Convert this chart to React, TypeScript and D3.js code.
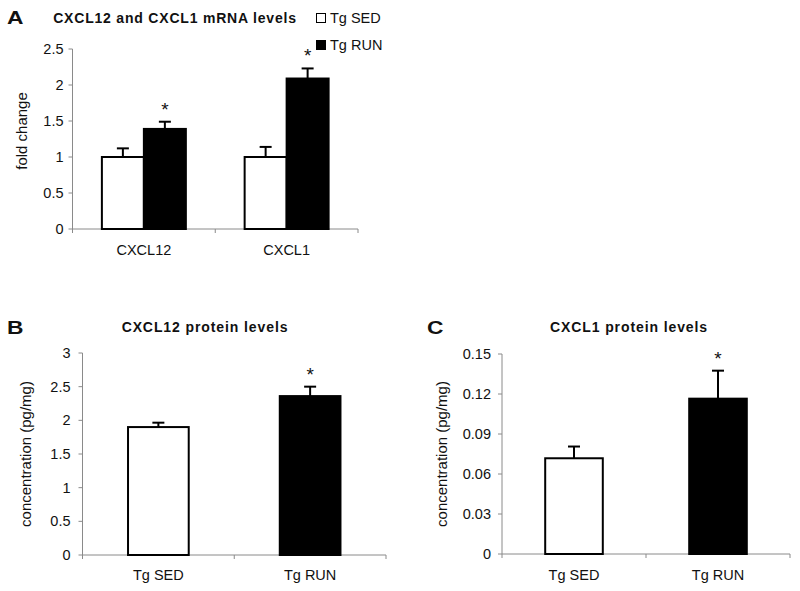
import React from "react";
import * as d3 from "d3";

// Panel A: mRNA fold change
const mrnaCategories = ["CXCL12", "CXCL1"];
const seriesNames = ["Tg SED", "Tg RUN"];
const mrnaSed = [1.0, 1.0];
const mrnaSedErr = [0.12, 0.14];
const mrnaRun = [1.39, 2.09];
const mrnaRunErr = [0.1, 0.14];
const mrnaTicks = [0, 0.5, 1, 1.5, 2, 2.5];

// Panel B: CXCL12 protein
const groupCategories = ["Tg SED", "Tg RUN"];
const cxcl12Protein = [1.9, 2.36];
const cxcl12ProteinErr = [0.065, 0.14];
const cxcl12Ticks = [0, 0.5, 1, 1.5, 2, 2.5, 3];

// Panel C: CXCL1 protein
const cxcl1Protein = [0.0718, 0.1165];
const cxcl1ProteinErr = [0.0088, 0.021];
const cxcl1Ticks = [0, 0.03, 0.06, 0.09, 0.12, 0.15];

const FONT = "'Liberation Sans', Arial, Helvetica, sans-serif";
const AXIS = "#8a8a8a";
const fmt = d3.format("~g");

type AxisProps = {
  x0: number;
  x1: number;
  y: d3.ScaleLinear<number, number>;
  ticks: number[];
  labelGap: number;
  xTicks: number[];
};

function Axes({ x0, x1, y, ticks, labelGap, xTicks }: AxisProps) {
  const [y0, yTop] = [y(ticks[0]), y(ticks[ticks.length - 1])];
  return (
    <g>
      <line x1={x0} x2={x0} y1={yTop} y2={y0} stroke={AXIS} strokeWidth={1} />
      <line x1={x0} x2={x1} y1={y0} y2={y0} stroke={AXIS} strokeWidth={1} />
      {ticks.map((t) => (
        <g key={t}>
          <line x1={x0 - 4} x2={x0} y1={y(t)} y2={y(t)} stroke={AXIS} strokeWidth={1} />
          <text
            x={x0 - labelGap}
            y={y(t)}
            dy="0.35em"
            textAnchor="end"
            fontSize={14.5}
            fontFamily={FONT}
            fill="#111"
          >
            {fmt(t)}
          </text>
        </g>
      ))}
      {xTicks.map((xt, i) => (
        <line key={i} x1={xt} x2={xt} y1={y0} y2={y0 + 4} stroke={AXIS} strokeWidth={1} />
      ))}
    </g>
  );
}

function ErrorBar({ cx, yTop, yBar }: { cx: number; yTop: number; yBar: number }) {
  return (
    <g stroke="#000" strokeWidth={2}>
      <line x1={cx} x2={cx} y1={yBar} y2={yTop} />
      <line x1={cx - 6} x2={cx + 6} y1={yTop} y2={yTop} />
    </g>
  );
}

function Star({ cx, yTop }: { cx: number; yTop: number }) {
  return (
    <text x={cx} y={yTop - 6} textAnchor="middle" fontSize={19} fontFamily={FONT} fill="#111">
      *
    </text>
  );
}

function PanelLetter({ x, y, letter }: { x: number; y: number; letter: string }) {
  return (
    <text
      transform={`translate(${x},${y}) scale(1.2,1)`}
      fontSize={19}
      fontWeight="bold"
      fontFamily={FONT}
      fill="#111"
    >
      {letter}
    </text>
  );
}

function PanelA() {
  const xL = 72.5;
  const xR = 358;
  const y = d3.scaleLinear().domain([0, 2.5]).range([229, 49]);
  const x0 = d3.scaleBand<string>().domain(mrnaCategories).range([xL, xR]).padding(0);
  const x1 = d3
    .scaleBand<string>()
    .domain(seriesNames)
    .range([0, x0.bandwidth()])
    .paddingInner(0)
    .paddingOuter(0.7);
  const series = [
    { name: seriesNames[0], vals: mrnaSed, errs: mrnaSedErr, fill: "#fff" },
    { name: seriesNames[1], vals: mrnaRun, errs: mrnaRunErr, fill: "#000" },
  ];
  return (
    <g>
      <PanelLetter x={7} y={24} letter="A" />
      <text
        x={175}
        y={23}
        textAnchor="middle"
        fontSize={14}
        fontWeight="bold"
        letterSpacing={0.8}
        fontFamily={FONT}
        fill="#111"
      >
        CXCL12 and CXCL1 mRNA levels
      </text>
      {series.map((s, i) => (
        <g key={s.name}>
          <rect
            x={316.5}
            y={13.5 + i * 27}
            width={9}
            height={9}
            fill={s.fill}
            stroke="#000"
            strokeWidth={1}
          />
          <text x={330} y={23 + i * 27} fontSize={14.5} fontFamily={FONT} fill="#111">
            {s.name}
          </text>
        </g>
      ))}
      <Axes
        x0={xL}
        x1={xR}
        y={y}
        ticks={mrnaTicks}
        labelGap={9}
        xTicks={[xL, x0(mrnaCategories[1]) as number, xR]}
      />
      {mrnaCategories.map((c, ci) => (
        <g key={c}>
          {series.map((s) => {
            const bx = (x0(c) as number) + (x1(s.name) as number);
            const bw = x1.bandwidth();
            return (
              <rect
                key={s.name}
                x={bx}
                y={y(s.vals[ci])}
                width={bw}
                height={y(0) - y(s.vals[ci])}
                fill={s.fill}
                stroke="#000"
                strokeWidth={2}
              />
            );
          })}
          {series.map((s) => {
            const cx = (x0(c) as number) + (x1(s.name) as number) + x1.bandwidth() / 2;
            return (
              <ErrorBar
                key={s.name}
                cx={cx}
                yBar={y(s.vals[ci])}
                yTop={y(s.vals[ci] + s.errs[ci])}
              />
            );
          })}
          <Star
            cx={(x0(c) as number) + (x1(seriesNames[1]) as number) + x1.bandwidth() / 2}
            yTop={y(mrnaRun[ci] + mrnaRunErr[ci])}
          />
          <text
            x={(x0(c) as number) + x0.bandwidth() / 2}
            y={255}
            textAnchor="middle"
            fontSize={14.5}
            fontFamily={FONT}
            fill="#111"
          >
            {c}
          </text>
        </g>
      ))}
      <text
        transform={`translate(27,131) rotate(-90)`}
        textAnchor="middle"
        fontSize={15}
        fontFamily={FONT}
        fill="#111"
      >
        fold change
      </text>
    </g>
  );
}

type ProteinProps = {
  letter: string;
  letterX: number;
  title: string;
  titleX: number;
  xL: number;
  xR: number;
  yTopPx: number;
  yBotPx: number;
  ticks: number[];
  vals: number[];
  errs: number[];
  labelGap: number;
  yLabelX: number;
};

function ProteinPanel(p: ProteinProps) {
  const y = d3
    .scaleLinear()
    .domain([0, p.ticks[p.ticks.length - 1]])
    .range([p.yBotPx, p.yTopPx]);
  const x = d3
    .scaleBand<string>()
    .domain(groupCategories)
    .range([p.xL, p.xR])
    .paddingInner(0.6)
    .paddingOuter(0.3);
  const fills = ["#fff", "#000"];
  const mid = (p.xL + p.xR) / 2;
  return (
    <g>
      <PanelLetter x={p.letterX} y={334} letter={p.letter} />
      <text
        x={p.titleX}
        y={332}
        textAnchor="middle"
        fontSize={14}
        fontWeight="bold"
        letterSpacing={0.9}
        fontFamily={FONT}
        fill="#111"
      >
        {p.title}
      </text>
      <Axes
        x0={p.xL}
        x1={p.xR}
        y={y}
        ticks={p.ticks}
        labelGap={p.labelGap}
        xTicks={[p.xL, mid, p.xR]}
      />
      {groupCategories.map((c, i) => {
        const bx = x(c) as number;
        const bw = x.bandwidth();
        const cx = bx + bw / 2;
        return (
          <g key={c}>
            <rect
              x={bx}
              y={y(p.vals[i])}
              width={bw}
              height={y(0) - y(p.vals[i])}
              fill={fills[i]}
              stroke="#000"
              strokeWidth={2}
            />
            <ErrorBar cx={cx} yBar={y(p.vals[i])} yTop={y(p.vals[i] + p.errs[i])} />
            {i === 1 && <Star cx={cx} yTop={y(p.vals[i] + p.errs[i])} />}
            <text
              x={cx}
              y={580}
              textAnchor="middle"
              fontSize={14.5}
              fontFamily={FONT}
              fill="#111"
            >
              {c}
            </text>
          </g>
        );
      })}
      <text
        transform={`translate(${p.yLabelX},${(p.yTopPx + p.yBotPx) / 2}) rotate(-90)`}
        textAnchor="middle"
        fontSize={15}
        fontFamily={FONT}
        fill="#111"
      >
        concentration (pg/mg)
      </text>
    </g>
  );
}

export default function App() {
  return (
    <svg
      width={800}
      height={591}
      style={{ position: "absolute", left: 0, top: 0, background: "#fff" }}
    >
      <rect width={800} height={591} fill="#fff" />
      <PanelA />
      <ProteinPanel
        letter="B"
        letterX={7}
        title="CXCL12 protein levels"
        titleX={205}
        xL={82.5}
        xR={386}
        yTopPx={353}
        yBotPx={555}
        ticks={cxcl12Ticks}
        vals={cxcl12Protein}
        errs={cxcl12ProteinErr}
        labelGap={12}
        yLabelX={31}
      />
      <ProteinPanel
        letter="C"
        letterX={427}
        title="CXCL1 protein levels"
        titleX={629}
        xL={502}
        xR={790}
        yTopPx={354}
        yBotPx={554}
        ticks={cxcl1Ticks}
        vals={cxcl1Protein}
        errs={cxcl1ProteinErr}
        labelGap={11}
        yLabelX={447}
      />
    </svg>
  );
}
